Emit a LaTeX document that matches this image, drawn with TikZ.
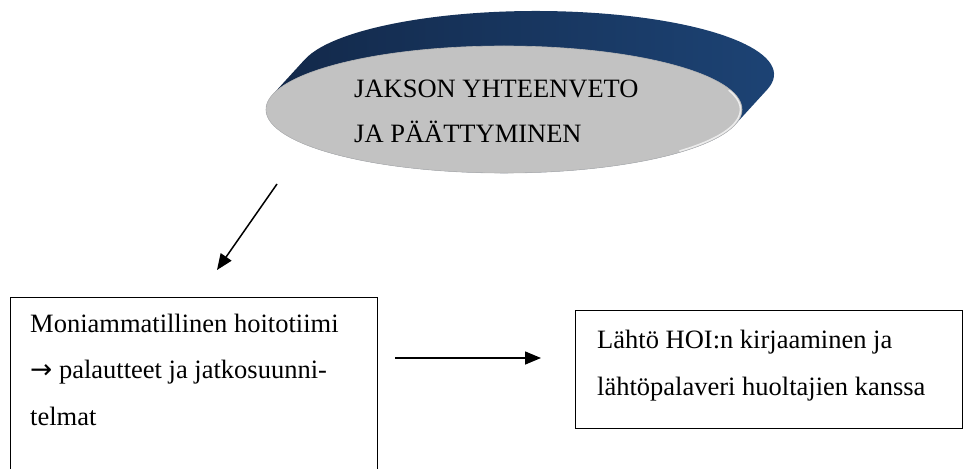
\documentclass[tikz,border=0pt]{standalone}
\usepackage{fontspec}
\setmainfont{Liberation Serif}
\newfontfamily\arrowfont{DejaVu Sans}
\usetikzlibrary{arrows.meta,calc,shapes.geometric}

\definecolor{discgrey}{RGB}{194,194,194}
\definecolor{discedge}{RGB}{182,182,182}
\definecolor{rimlight}{RGB}{236,236,236}
\definecolor{banddark}{RGB}{18,39,71}
\definecolor{bandlight}{RGB}{29,68,118}

\begin{document}
\begin{tikzpicture}[x=1pt,y=1pt,
  txt/.style={font=\rmfamily\fontsize{26.5}{#1}\selectfont, inner sep=0pt, anchor=base west},
  frame/.style={draw=black, line width=1.3pt, inner sep=0pt, anchor=north west},
  link/.style={line width=1.5pt, -{Triangle[length=16pt,width=13pt]}}]

\useasboundingbox (0,0) rectangle (965,-468);
\clip (0,0) rectangle (965,-468);

% disc: grey face and the blue side wall behind it
\coordinate (discc) at (504,-109.5);
\coordinate (bandc) at ($(discc)+(32,35)$);
\path[left color=banddark, right color=bandlight]
  ($(bandc)+(-13.7:238pt and 63.5pt)$)
    arc[start angle=-13.7, end angle=166.3, x radius=238pt, y radius=63.5pt]
  -- ($(discc)+(166.3:238pt and 63.5pt)$)
    arc[start angle=166.3, end angle=346.3, x radius=238pt, y radius=63.5pt]
  -- cycle;
\node[ellipse, fill=discgrey, draw=discedge, line width=0.6pt,
      minimum width=476pt, minimum height=127pt, inner sep=0pt] (disc) at (discc) {};
\draw[rimlight, line width=1.6pt, line cap=round]
  ($(discc)+(-42:236.5pt and 62pt)$)
    arc[start angle=-42, end angle=18, x radius=236.5pt, y radius=62pt];
\node[txt=45] (disctext) at (354,-98)
  {\parbox[t]{330pt}{JAKSON YHTEENVETO\\JA PÄÄTTYMINEN}};

% boxes
\node[frame, minimum width=367pt, minimum height=260pt] (team) at (10,-297) {};
\node[txt=46.5] (teamtext) at (30,-332)
  {\parbox[t]{340pt}{Moniammatillinen hoitotiimi\\{\arrowfont →} palautteet ja jatkosuunni-\\telmat}};

\node[frame, minimum width=387pt, minimum height=118pt] (exit) at (575,-310) {};
\node[txt=47] (exittext) at (597,-348)
  {\parbox[t]{360pt}{Lähtö HOI:n kirjaaminen ja\\lähtöpalaveri huoltajien kanssa}};

% connectors
\coordinate (downstart) at ($(discc)+(-227,-74.5)$);
\coordinate (downend) at ($(team.north west)+(207,27)$);
\draw[link] (downstart) -- (downend);

\coordinate (rightstart) at ($(team.north east)+(17,-61)$);
\coordinate (rightend) at ($(exit.north west)+(-34,-48)$);
\draw[link] (rightstart) -- (rightend);
\end{tikzpicture}
\end{document}
